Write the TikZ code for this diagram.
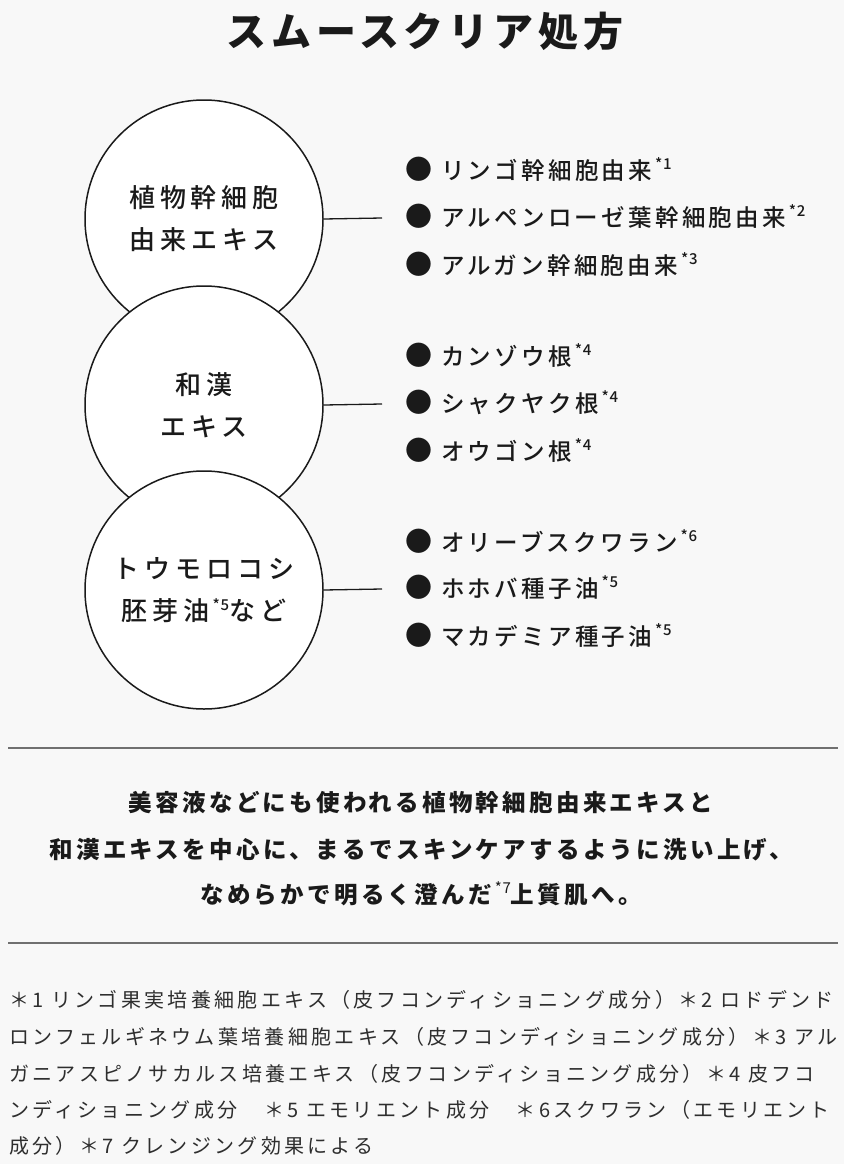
\documentclass[tikz,border=0pt]{standalone}
\usepackage{fontspec}
\setmainfont{Noto Sans CJK JP}
\newfontfamily\medfont{Noto Sans CJK JP Medium}
\definecolor{bg}{HTML}{F8F8F8}
\definecolor{ink}{HTML}{1A1A1A}
\definecolor{footc}{HTML}{2E2E2E}
\definecolor{rulec}{HTML}{707070}
\newcommand{\sr}[1]{\hspace{3pt}\smash{\raisebox{0.40em}{\mdseries\fontsize{15}{15}\selectfont\addfontfeature{LetterSpace=5}*#1}}}
\newcommand{\bul}{{\fontsize{27}{27}\selectfont ●}\hspace{9pt}}
\tikzset{
  circ/.style={circle, draw=ink, line width=1.5, fill=white, minimum size=238, inner sep=0, align=center, text=ink,
    font=\medfont\fontsize{26}{42}\selectfont\addfontfeature{LetterSpace=19}},
  item/.style={anchor=west, inner sep=0, text=ink, text height=20, text depth=4,
    font=\medfont\fontsize{23.5}{23}\selectfont\addfontfeature{LetterSpace=14}},
  conn/.style={line width=1.3, draw=ink},
  hrule/.style={line width=2, draw=rulec},
  para/.style={inner sep=0, text=ink, text height=20, text depth=4,
    font=\bfseries\fontsize{23.5}{23}\selectfont\addfontfeature{LetterSpace=14}},
  foot/.style={anchor=west, inner sep=0, text=footc, text height=18, text depth=3,
    font=\fontsize{20}{20}\selectfont\addfontfeature{LetterSpace=16.5}},
  ttl/.style={inner sep=0, text=ink, font=\bfseries\fontsize{40}{40}\selectfont\addfontfeature{LetterSpace=12}}
}
\begin{document}
\begin{tikzpicture}[x=1pt,y=-1pt]
\fill[bg] (0,0) rectangle (844,1164);
\useasboundingbox (0,0) rectangle (844,1164);

\node[ttl] (title) at (425,31) {スムースクリア処方};

% circles
\node[circ] (c1) at (204,219) {植物幹細胞\\由来エキス};
\node[circ] (c2) at (204,405) {和漢\\エキス};
\node[circ] (c3) at (204,590) {トウモロコシ\\胚芽油\sr{5}など};

\coordinate (k1) at (382,218);
\coordinate (k2) at (382,404);
\coordinate (k3) at (382,589);
\draw[conn] (c1.east) -- (k1);
\draw[conn] (c2.east) -- (k2);
\draw[conn] (c3.east) -- (k3);

% items
\node[item] (a1) at (405,171) {\bul リンゴ幹細胞由来\sr{1}};
\node[item] (a2) at (405,218) {\bul アルペンローゼ葉幹細胞由来\sr{2}};
\node[item] (a3) at (405,266) {\bul アルガン幹細胞由来\sr{3}};
\node[item] (b1) at (405,357) {\bul カンゾウ根\sr{4}};
\node[item] (b2) at (405,404) {\bul シャクヤク根\sr{4}};
\node[item] (b3) at (405,452) {\bul オウゴン根\sr{4}};
\node[item] (d1) at (405,543) {\bul オリーブスクワラン\sr{6}};
\node[item] (d2) at (405,589) {\bul ホホバ種子油\sr{5}};
\node[item] (d3) at (405,637) {\bul マカデミア種子油\sr{5}};

% rules
\coordinate (r1a) at (8,748);
\coordinate (r1b) at (838,748);
\coordinate (r2a) at (8,943);
\coordinate (r2b) at (838,943);
\draw[hrule] (r1a) -- (r1b);
\draw[hrule] (r2a) -- (r2b);

% paragraph
\node[para] (p1) at (421,803) {美容液などにも使われる植物幹細胞由来エキスと};
\node[para] (p2) at (421,850) {和漢エキスを中心に、まるでスキンケアするように洗い上げ、};
\node[para] (p3) at (421,895) {なめらかで明るく澄んだ\sr{7}上質肌へ。};

% footnotes
\node[foot] (f1) at (9,1000) {＊1 リンゴ果実培養細胞エキス（皮フコンディショニング成分）＊2 ロドデンド};
\node[foot] (f2) at (9,1037) {ロンフェルギネウム葉培養細胞エキス（皮フコンディショニング成分）＊3 アル};
\node[foot] (f3) at (9,1074) {ガニアスピノサカルス培養エキス（皮フコンディショニング成分）＊4 皮フコ};
\node[foot] (f4) at (9,1110) {ンディショニング成分　＊5 エモリエント成分　＊6スクワラン（エモリエント};
\node[foot] (f5) at (9,1146) {成分）＊7 クレンジング効果による};
\end{tikzpicture}
\end{document}
